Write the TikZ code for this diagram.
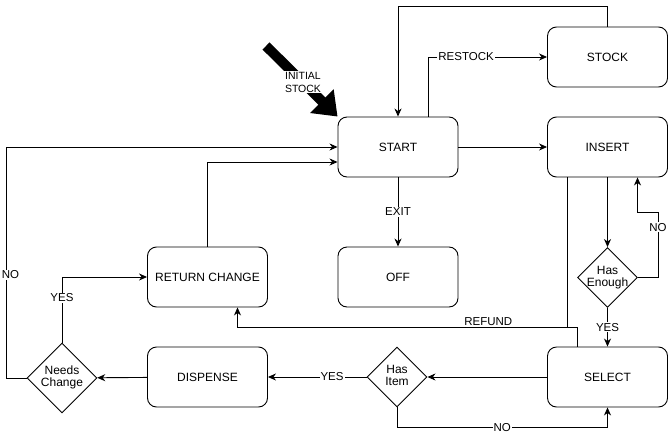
\documentclass[tikz,border=0pt]{standalone}
\usepackage{fontspec}
\setmainfont{Liberation Sans}
\usetikzlibrary{arrows.meta,shapes.geometric,calc}
\begin{document}
\begin{tikzpicture}[x=1pt,y=-1pt,line width=0.9pt,
  box/.style={draw,rounded corners=9pt,minimum width=120pt,minimum height=60pt,inner sep=0pt,font=\fontsize{12}{14}\selectfont},
  dia/.style={draw,diamond,inner sep=0pt,font=\fontsize{12}{14}\selectfont},
  edge/.style={draw,-{Stealth[length=8pt,width=7pt,inset=2.5pt]}},
  lbl/.style={fill=white,inner sep=1pt,font=\fontsize{11.5}{13}\selectfont},
  lbla/.style={inner sep=1pt,font=\fontsize{11.5}{13}\selectfont}]
\useasboundingbox (0,0) rectangle (668,436);
% nodes
\node[box] (start) at (398,147) {START};
\node[box] (stock) at (607.5,57) {STOCK};
\node[box] (insert) at (607.5,147) {INSERT};
\node[box] (off) at (398,277) {OFF};
\node[box] (ret) at (207.5,277) {RETURN CHANGE};
\node[box] (disp) at (207.5,377) {DISPENSE};
\node[box] (sel) at (607.5,377) {SELECT};
\node[dia,minimum width=60pt,minimum height=60pt] (enough) at (607.5,277.5)
  {\makebox[0pt]{\begin{tabular}{@{}c@{}}Has\\[-2pt]Enough\end{tabular}}};
\node[dia,minimum width=60pt,minimum height=60pt] (item) at (397,377)
  {\makebox[0pt]{\begin{tabular}{@{}c@{}}Has\\[-2pt]Item\end{tabular}}};
\node[dia,minimum width=70pt,minimum height=70pt] (needs) at (62,378)
  {\makebox[0pt]{\begin{tabular}{@{}c@{}}Needs\\[-2pt]Change\end{tabular}}};
% initial stock arrow
\coordinate (istail) at (266,46);
\draw[line width=10pt,-{Triangle[length=22pt,width=32pt]}] (istail) -- (start.north west);
\node[fill=white,inner sep=1pt,align=center,font=\fontsize{10.5}{13}\selectfont] (islbl) at (303,82) {INITIAL\\STOCK};
% edges
\draw[edge] (stock.north) -- ++(0,-20) -| (start.north);
\draw[edge] ([xshift=30pt]start.north) |- node[lbl,pos=0.66]{RESTOCK} (stock.west);
\draw[edge] (start) -- node[lbl]{EXIT} (off);
\draw[edge] (start) -- (insert);
\draw[edge] (insert) -- (enough);
\draw[edge] (enough.east) -- ++(20,0) -- node[lbl,pos=0.77]{NO} ++(0,-65.5) -| ([xshift=30pt]insert.south);
\draw[edge] (enough) -- node[lbl]{YES} (sel);
\coordinate (rf) at ($(insert.south)+(-40,150)$);
\draw[edge] ([xshift=-40pt]insert.south) -- (rf) -| node[lbla,pos=0.12,above]{REFUND} ([xshift=30pt]ret.south);
\draw ([xshift=-30pt]sel.north) |- (rf);
\draw[edge] (sel) -- (item);
\draw[edge] (item) -- node[lbl,pos=0.35]{YES} (disp);
\draw[edge] (item.south) -- ++(0,20) -| node[lbl,pos=0.25]{NO} (sel.south);
\draw[edge] (disp) -- (needs);
\draw[edge] (needs.north) |- node[lbl,pos=0.34]{YES} (ret.west);
\draw[edge] (needs.west) -- ++(-20,0) |- node[lbl,pos=0.223,xshift=4pt]{NO} (start.west);
\draw[edge] (ret.north) |- ([yshift=-15pt]start.west);
\end{tikzpicture}
\end{document}
